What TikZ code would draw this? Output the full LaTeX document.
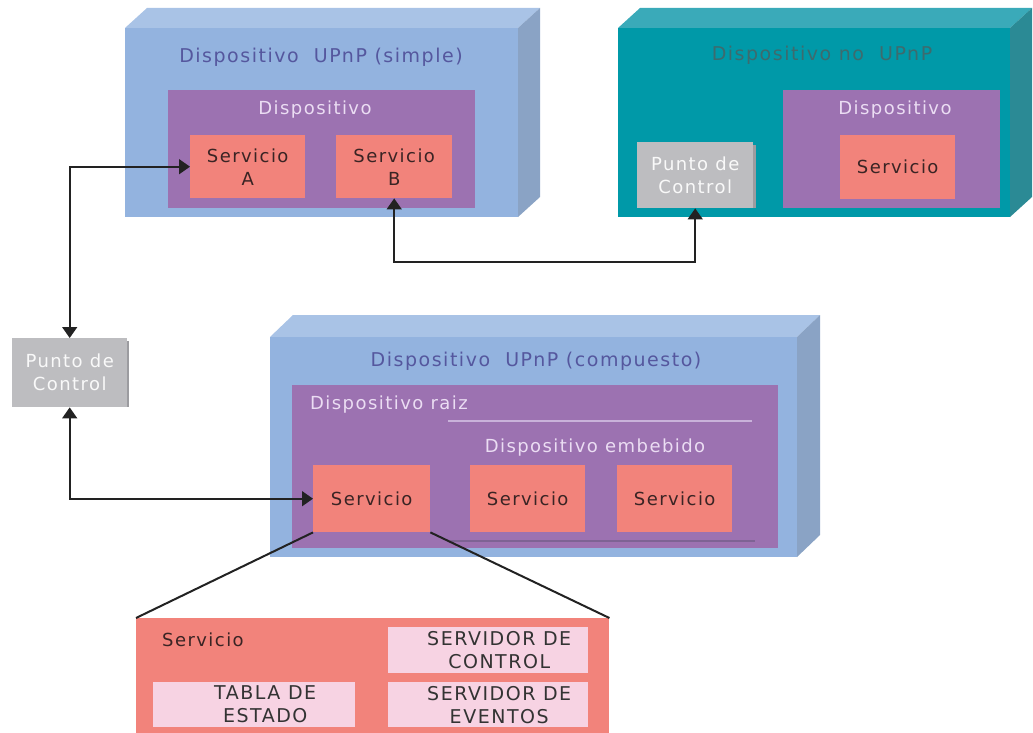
\documentclass[tikz,border=0pt]{standalone}
\usepackage{fontspec}
\setmainfont{DejaVu Sans}[LetterSpace=8]
\usetikzlibrary{arrows.meta}

\definecolor{blueFront}{HTML}{93B3DF}
\definecolor{blueTop}{HTML}{A9C3E6}
\definecolor{blueSide}{HTML}{8AA3C5}
\definecolor{tealFront}{HTML}{0099A8}
\definecolor{tealTop}{HTML}{3AAAB9}
\definecolor{tealSide}{HTML}{2B8A95}
\definecolor{devPurple}{HTML}{9C72B1}
\definecolor{svcSalmon}{HTML}{F2837B}
\definecolor{cpGray}{HTML}{BDBDC0}
\definecolor{cpShadow}{HTML}{9C9CA0}
\definecolor{partPink}{HTML}{F7D3E3}
\definecolor{titleBlue}{HTML}{55579E}
\definecolor{titleTeal}{HTML}{3D6B6E}
\definecolor{lavText}{HTML}{EBDDF3}
\definecolor{lavLine}{HTML}{C9B2DA}
\definecolor{darkLine}{HTML}{7E6394}
\definecolor{inkDark}{HTML}{3A2424}
\definecolor{wireInk}{HTML}{222222}

\tikzset{
  txt/.style={font=\fontsize{18}{23}\selectfont, align=center, inner sep=0pt},
  title/.style={font=\fontsize{19}{23}\selectfont, inner sep=0pt},
  devbox/.style={fill=devPurple, draw=none, inner sep=0pt, anchor=north west},
  svcbox/.style={fill=svcSalmon, draw=none, inner sep=0pt, anchor=north west,
                 txt, text=inkDark},
  cpbox/.style={fill=cpGray, draw=none, inner sep=0pt, anchor=north west,
                txt, text=white!95!gray},
  partbox/.style={fill=partPink, draw=none, inner sep=0pt, anchor=north west,
                  font=\fontsize{19}{23}\selectfont, align=center, text=black!80},
  wire/.style={line width=1.6pt, draw=wireInk},
  link/.style={wire, {Triangle[width=15pt,length=11pt]}-{Triangle[width=15pt,length=11pt]}},
}
% pushes the centred lines of a part box a little to the right
\newcommand{\pshift}{\hspace*{22pt}}

\begin{document}
\begin{tikzpicture}[x=1pt,y=-1pt]
\useasboundingbox (0,0) rectangle (1033,733);

% ---------- UPnP device (simple) ----------
\fill[blueTop] (125,28) -- (147,8) -- (540,8) -- (518,28) -- cycle;
\fill[blueSide] (518,28) -- (540,8) -- (540,197) -- (518,217) -- cycle;
\node[fill=blueFront, inner sep=0pt, anchor=north west, minimum width=393pt, minimum height=189pt] (simple) at (125,28) {};
\node[title, text=titleBlue] (simpleT) at (321,57) {Dispositivo\ \ UPnP (simple)};
\node[devbox, minimum width=307pt, minimum height=118pt] (dev1) at (168,90) {};
\node[txt, text=lavText] (dev1T) at (315,110) {Dispositivo};
\node[svcbox, minimum width=115pt, minimum height=63pt] (sa) at (190,135) {Servicio\\A};
\node[svcbox, minimum width=116pt, minimum height=63pt] (sb) at (336,135) {Servicio\\B};

% ---------- non-UPnP device ----------
\fill[tealTop] (618,28) -- (640,8) -- (1032,8) -- (1010,28) -- cycle;
\fill[tealSide] (1010,28) -- (1032,8) -- (1032,197) -- (1010,217) -- cycle;
\node[fill=tealFront, inner sep=0pt, anchor=north west, minimum width=392pt, minimum height=189pt] (noupnp) at (618,28) {};
\node[title, text=titleTeal] (noupnpT) at (822,55) {Dispositivo no\ \ UPnP};
\node[devbox, minimum width=217pt, minimum height=118pt] (dev2) at (783,90) {};
\node[txt, text=lavText] (dev2T) at (895,110) {Dispositivo};
\node[svcbox, minimum width=115pt, minimum height=64pt] (s2) at (840,135) {Servicio};
\fill[cpShadow] (752,145) rectangle (756,208);
\node[cpbox, minimum width=116pt, minimum height=66pt] (pcr) at (637,142) {Punto de\\Control};

% ---------- standalone control point ----------
\fill[cpShadow] (125,341) rectangle (129,407);
\node[cpbox, minimum width=115pt, minimum height=69pt] (pcl) at (12,338) {Punto de\\Control};

% ---------- UPnP device (compound) ----------
\fill[blueTop] (270,337) -- (293,315) -- (820,315) -- (797,337) -- cycle;
\fill[blueSide] (797,337) -- (820,315) -- (820,535) -- (797,557) -- cycle;
\node[fill=blueFront, inner sep=0pt, anchor=north west, minimum width=527pt, minimum height=220pt] (compound) at (270,337) {};
\node[title, text=titleBlue] (compoundT) at (536,361) {Dispositivo\ \ UPnP (compuesto)};
\node[devbox, minimum width=486pt, minimum height=163pt] (root) at (292,385) {};
\node[txt, text=lavText, anchor=west] (rootT) at (310,405) {Dispositivo raiz};
\coordinate (embL) at (448,421);
\coordinate (embR) at (752,421);
\draw[lavLine, line width=1.2pt] (embL) -- (embR);
\node[txt, text=lavText] (embT) at (595,448) {Dispositivo embebido};
\coordinate (embBL) at (450,541);
\coordinate (embBR) at (755,541);
\draw[darkLine, line width=1.2pt] (embBL) -- (embBR);
\node[svcbox, minimum width=117pt, minimum height=67pt] (sc) at (313,465) {Servicio};
\node[svcbox, minimum width=115pt, minimum height=67pt] (se1) at (470,465) {Servicio};
\node[svcbox, minimum width=115pt, minimum height=67pt] (se2) at (617,465) {Servicio};

% ---------- service detail ----------
\node[fill=svcSalmon, inner sep=0pt, anchor=north west, minimum width=473pt, minimum height=120pt] (detail) at (136,618) {};
\node[txt, text=inkDark, anchor=west] (detailT) at (162,640) {Servicio};
\node[partbox, minimum width=200pt, minimum height=46pt] (ctrl) at (388,627) {\pshift SERVIDOR DE\\\pshift CONTROL};
\node[partbox, minimum width=202pt, minimum height=45pt] (table) at (153,682) {\pshift TABLA DE\\\pshift ESTADO};
\node[partbox, minimum width=200pt, minimum height=45pt] (events) at (388,682) {\pshift SERVIDOR DE\\\pshift EVENTOS};
\draw[wire, line width=2pt] (sc.south west) -- (detail.north west);
\draw[wire, line width=2pt] (sc.south east) -- (detail.north east);

% ---------- connections ----------
\draw[link] (pcl.north) |- (sa.west);
\draw[link] (pcl.south) |- (sc.west);
\coordinate (lowbend) at (0,262);
\draw[link] (sb.south) -- (sb.south |- lowbend) -| (pcr.south);

\end{tikzpicture}
\end{document}
